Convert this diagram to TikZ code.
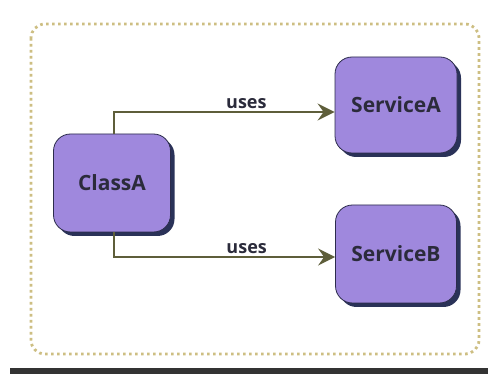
\documentclass[tikz,border=0pt]{standalone}
\usepackage{fontspec}
\setmainfont{Open Sans}
\usetikzlibrary{arrows.meta,shadows,positioning}
\definecolor{boxfill}{HTML}{9F88DD}
\definecolor{boxedge}{HTML}{2C2C4C}
\definecolor{shadowc}{HTML}{2A3258}
\definecolor{conn}{HTML}{5E5E3A}
\definecolor{frame}{HTML}{CDBE82}
\definecolor{txt}{HTML}{2B2B3B}
\tikzset{
  classbox/.style={draw=boxedge, line width=0.8pt, fill=boxfill, rounded corners=17pt,
    drop shadow={shadow xshift=4pt, shadow yshift=-4pt, fill=shadowc, opacity=1},
    font=\fontsize{21}{24}\selectfont\bfseries, text=txt, inner sep=0pt},
  uses/.style={draw=conn, line width=1.8pt, -{Stealth[length=17pt,width=17pt,inset=6pt]}},
  lbl/.style={font=\fontsize{18}{20}\selectfont\bfseries, text=txt, above, inner sep=2pt}
}
\begin{document}
\begin{tikzpicture}[x=1pt,y=-1pt]
\useasboundingbox (0,0) rectangle (488,374);
\fill[white] (0,0) rectangle (488,374);
\draw[frame, line width=2.8pt, dash pattern=on 2.6pt off 3.4pt, rounded corners=14pt] (31,24) rectangle (479,354);
\fill[black!80] (10,368) rectangle (488,374);
\node[classbox, minimum width=117pt, minimum height=98pt] (ClassA) at (112,183) {ClassA};
\node[classbox, minimum width=122pt, minimum height=96pt] (ServiceA) at (396,105) {ServiceA};
\node[classbox, minimum width=121pt, minimum height=98pt] (ServiceB) at (396,254) {ServiceB};
\draw[uses] ([xshift=2pt]ClassA.north) |- ([yshift=-7pt]ServiceA.west) node[lbl, pos=0.8] (l1) {uses};
\draw[uses] ([xshift=2pt]ClassA.south) |- ([yshift=-3pt]ServiceB.west) node[lbl, pos=0.8] (l2) {uses};
\end{tikzpicture}
\end{document}
